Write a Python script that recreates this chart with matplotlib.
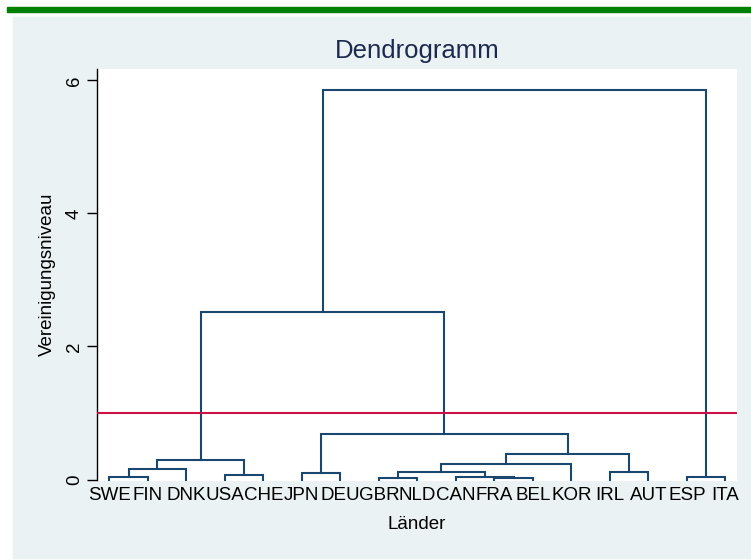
import numpy as np
import matplotlib
matplotlib.use("Agg")
import matplotlib.pyplot as plt
from matplotlib.patches import Rectangle

plt.rcParams['font.family'] = ['Liberation Sans', 'DejaVu Sans']

# Leaves in plot order
leaves = ["SWE", "FIN", "DNK", "USA", "CHE", "JPN", "DEU", "GBR", "NLD",
          "CAN", "FRA", "BEL", "KOR", "IRL", "AUT", "ESP", "ITA"]

# Merges: (left node, right node, height); new nodes numbered from len(leaves)
merge_left = [10, 7, 0, 9, 15, 3, 5, 18, 13, 19, 24, 26, 27, 23, 28, 31]
merge_right = [11, 8, 1, 17, 16, 4, 6, 20, 14, 2, 12, 22, 25, 29, 30, 21]
merge_height = [0.02, 0.025, 0.033, 0.04, 0.042, 0.068, 0.093, 0.117, 0.117,
                0.153, 0.23, 0.29, 0.39, 0.685, 2.52, 5.86]

cut_level = 1.0
yticks = [0, 2, 4, 6]

navy = "#1a476f"
red = "#cc1144"

fig = plt.figure(figsize=(7.51, 5.60), dpi=100)
fig.patch.set_facecolor("white")

# Stata style frame: green bar on top, light panel behind
fig.patches.append(Rectangle((7 / 751, 1 - 12 / 560), 744 / 751, 5 / 560,
                             transform=fig.transFigure, color="#008000", zorder=-2))
fig.patches.append(Rectangle((13 / 751, 1 - 558 / 560), 738 / 751, 541 / 560,
                             transform=fig.transFigure, color="#eaf2f3", zorder=-2))

ax = fig.add_axes([97 / 751, 1 - 480.5 / 560, 640 / 751, 411.5 / 560])
ax.set_facecolor("white")

# node positions
xpos = {i: float(i + 1) for i in range(len(leaves))}
ypos = {i: 0.0 for i in range(len(leaves))}
for k, (a, b, h) in enumerate(zip(merge_left, merge_right, merge_height)):
    node = len(leaves) + k
    ax.plot([xpos[a], xpos[a], xpos[b], xpos[b]], [ypos[a], h, h, ypos[b]],
            color=navy, lw=1.5, solid_joinstyle="miter", zorder=2)
    xpos[node] = (xpos[a] + xpos[b]) / 2
    ypos[node] = h

ax.axhline(cut_level, color=red, lw=1.5, zorder=3)

ax.set_xlim(0.68, 17.30)
ax.set_ylim(-0.015, 6.17)
ax.set_xticks(np.arange(1, len(leaves) + 1))
ax.set_xticklabels(leaves, fontsize=13.5)
ax.tick_params(axis="x", length=0, pad=5)
ax.set_yticks(yticks)
ax.set_yticklabels([str(t) for t in yticks], fontsize=13.5, rotation=90, va="center")
ax.tick_params(axis="y", length=7, width=1, pad=3)

for s in ["top", "right", "bottom"]:
    ax.spines[s].set_visible(False)
ax.spines["left"].set_linewidth(1)

ax.set_title("Dendrogramm", fontsize=18.5, color="#1c2a4f", pad=8)
ax.set_xlabel("Länder", fontsize=13.5, labelpad=8)
ax.set_ylabel("Vereinigungsniveau", fontsize=13.5, labelpad=7)

plt.savefig("out.png", dpi=100, facecolor=fig.get_facecolor())
